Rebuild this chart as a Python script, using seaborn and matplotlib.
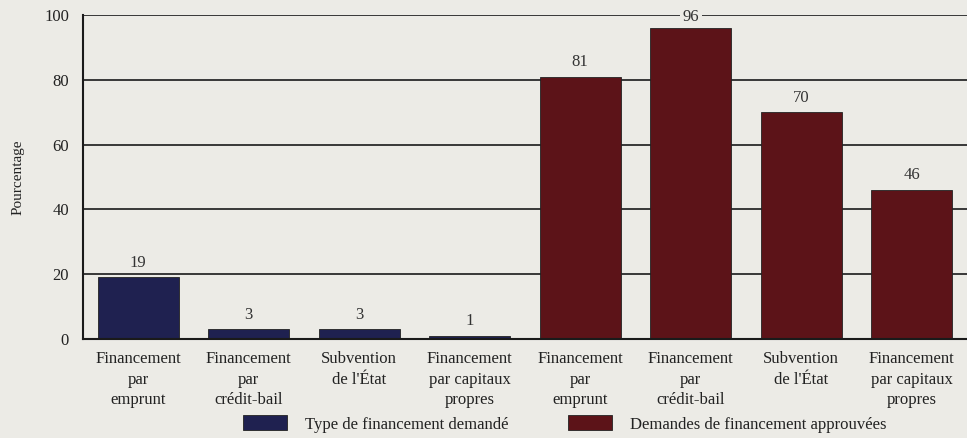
import pandas as pd
import seaborn as sns
import matplotlib.pyplot as plt
from matplotlib.patches import Patch

# data
labels = ["Financement\npar\nemprunt", "Financement\npar\ncrédit-bail",
          "Subvention\nde l'État", "Financement\npar capitaux\npropres"]
demande = [19, 3, 3, 1]
approuve = [81, 96, 70, 46]
groups = ["Type de financement demandé", "Demandes de financement approuvées"]
colors = ["#1f2150", "#5c1318"]

df = pd.DataFrame({
    "pos": [f"{g}-{i}" for g in range(2) for i in range(4)],
    "label": labels + labels,
    "valeur": demande + approuve,
    "groupe": [groups[0]] * 4 + [groups[1]] * 4,
})

sns.set_style("white")
plt.rcParams["font.family"] = ["Liberation Serif", "DejaVu Serif"]
bg = "#ecebe6"

fig = plt.figure(figsize=(9.67, 4.38), dpi=100, facecolor=bg)
ax = fig.add_axes([0.0858, 0.2265, 0.9142, 0.7385])
ax.set_facecolor(bg)

sns.barplot(data=df, x="pos", y="valeur", hue="groupe", palette=colors,
            dodge=False, width=0.73, edgecolor="#222222", linewidth=0.6,
            saturation=1, legend=False, ax=ax)

ax.set_xlim(-0.5, 7.5)
ax.set_ylim(0, 100)
ax.set_yticks([0, 20, 40, 60, 80, 100])
for y in [20, 40, 60, 80, 100]:
    ax.axhline(y, color="#2a2a2a", lw=1.3, zorder=0)
ax.set_xticks(range(8))
ax.set_xticklabels(df["label"], fontsize=12, color="#222222", linespacing=1.36)
ax.tick_params(axis="x", length=0, pad=9)
ax.tick_params(axis="y", length=0, labelsize=12, labelcolor="#222222", pad=10)
ax.set_xlabel("")
ax.set_ylabel("Pourcentage", fontsize=11, color="#222222", labelpad=14)
for s in ["top", "right"]:
    ax.spines[s].set_visible(False)
for s in ["left", "bottom"]:
    ax.spines[s].set_color("#1a1a1a")
    ax.spines[s].set_linewidth(1.5)

for i, v in enumerate(df["valeur"]):
    ax.text(i, min(v + 4.5, 99.6), str(v), ha="center", va="center", fontsize=12,
            color="#333333", zorder=5,
            bbox=dict(facecolor=bg, edgecolor="none", pad=2) if v > 90 else None)

handles = [Patch(facecolor=c, edgecolor="#222222", linewidth=0.6) for c in colors]
fig.legend(handles, groups, loc="lower left", bbox_to_anchor=(0.236, -0.022),
           ncol=2, frameon=False, fontsize=12, handlelength=2.6,
           handleheight=1.0, handletextpad=1.1, columnspacing=3.6,
           labelcolor="#222222")

fig.savefig("out.png", dpi=100, facecolor=bg)
